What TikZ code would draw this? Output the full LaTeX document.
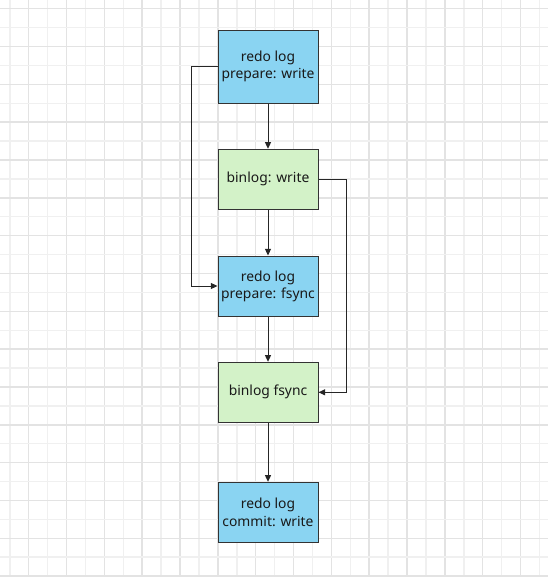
\documentclass[tikz,border=0pt]{standalone}
\usepackage{fontspec}
\setmainfont{Noto Sans}
\usetikzlibrary{arrows.meta}
\definecolor{bluefill}{HTML}{8AD4F2}
\definecolor{greenfill}{HTML}{D3F2C8}
\definecolor{majorgrid}{HTML}{E3E3E3}
\definecolor{minorgrid}{HTML}{F0F0F0}
\definecolor{edge}{HTML}{333333}
\tikzset{
  boxbase/.style={draw=edge, line width=0.75pt, minimum width=75pt, align=center, font=\fontsize{10.4}{12.8}\selectfont, text=black!90, inner sep=0pt},
  bluebox/.style={boxbase, fill=bluefill},
  greenbox/.style={boxbase, fill=greenfill},
  arr/.style={draw=black!85, line width=0.75pt, -{Triangle[length=5pt,width=4.5pt]}},
  gmaj/.style={draw=majorgrid, line width=1.1pt},
  gmin/.style={draw=minorgrid, line width=1.1pt}
}
\begin{document}
\begin{tikzpicture}[x=0.75pt,y=-0.75pt]
\fill[white] (0,0) rectangle (548,577);
\useasboundingbox (0,0) rectangle (548,577);
\foreach \k in {0,...,14} {
  \draw[gmin] ({9.8+37.83*\k},0) -- ({9.8+37.83*\k},577);
  \draw[gmaj] ({28.7+37.83*\k},0) -- ({28.7+37.83*\k},577);
}
\foreach \k in {0,...,15} {
  \draw[gmin] (0,{27.6+37.83*\k}) -- (548,{27.6+37.83*\k});
  \draw[gmaj] (0,{8.7+37.83*\k}) -- (548,{8.7+37.83*\k});
}
\node[bluebox, minimum height=54.75pt] (b1) at (268,66.7) {redo log\\prepare: write};
\node[greenbox, minimum height=45pt] (b2) at (268,179.3) {binlog: write};
\node[bluebox, minimum height=45pt] (b3) at (268,286) {redo log\\prepare: fsync};
\node[greenbox, minimum height=45pt] (b4) at (268,392.3) {binlog fsync};
\node[bluebox, minimum height=45pt] (b5) at (268,512.3) {redo log\\commit: write};
\coordinate (L) at (191,0);
\coordinate (R) at (346,0);
\draw[arr] (b1) -- (b2);
\draw[arr] (b2) -- (b3);
\draw[arr] (b3) -- (b4);
\draw[arr] (b4) -- (b5);
\draw[arr] (b1.west) -- (b1.west -| L) -- (b3.west -| L) -- (b3.west);
\draw[arr] (b2.east) -- (b2.east -| R) -- (b4.east -| R) -- (b4.east);
\end{tikzpicture}
\end{document}
